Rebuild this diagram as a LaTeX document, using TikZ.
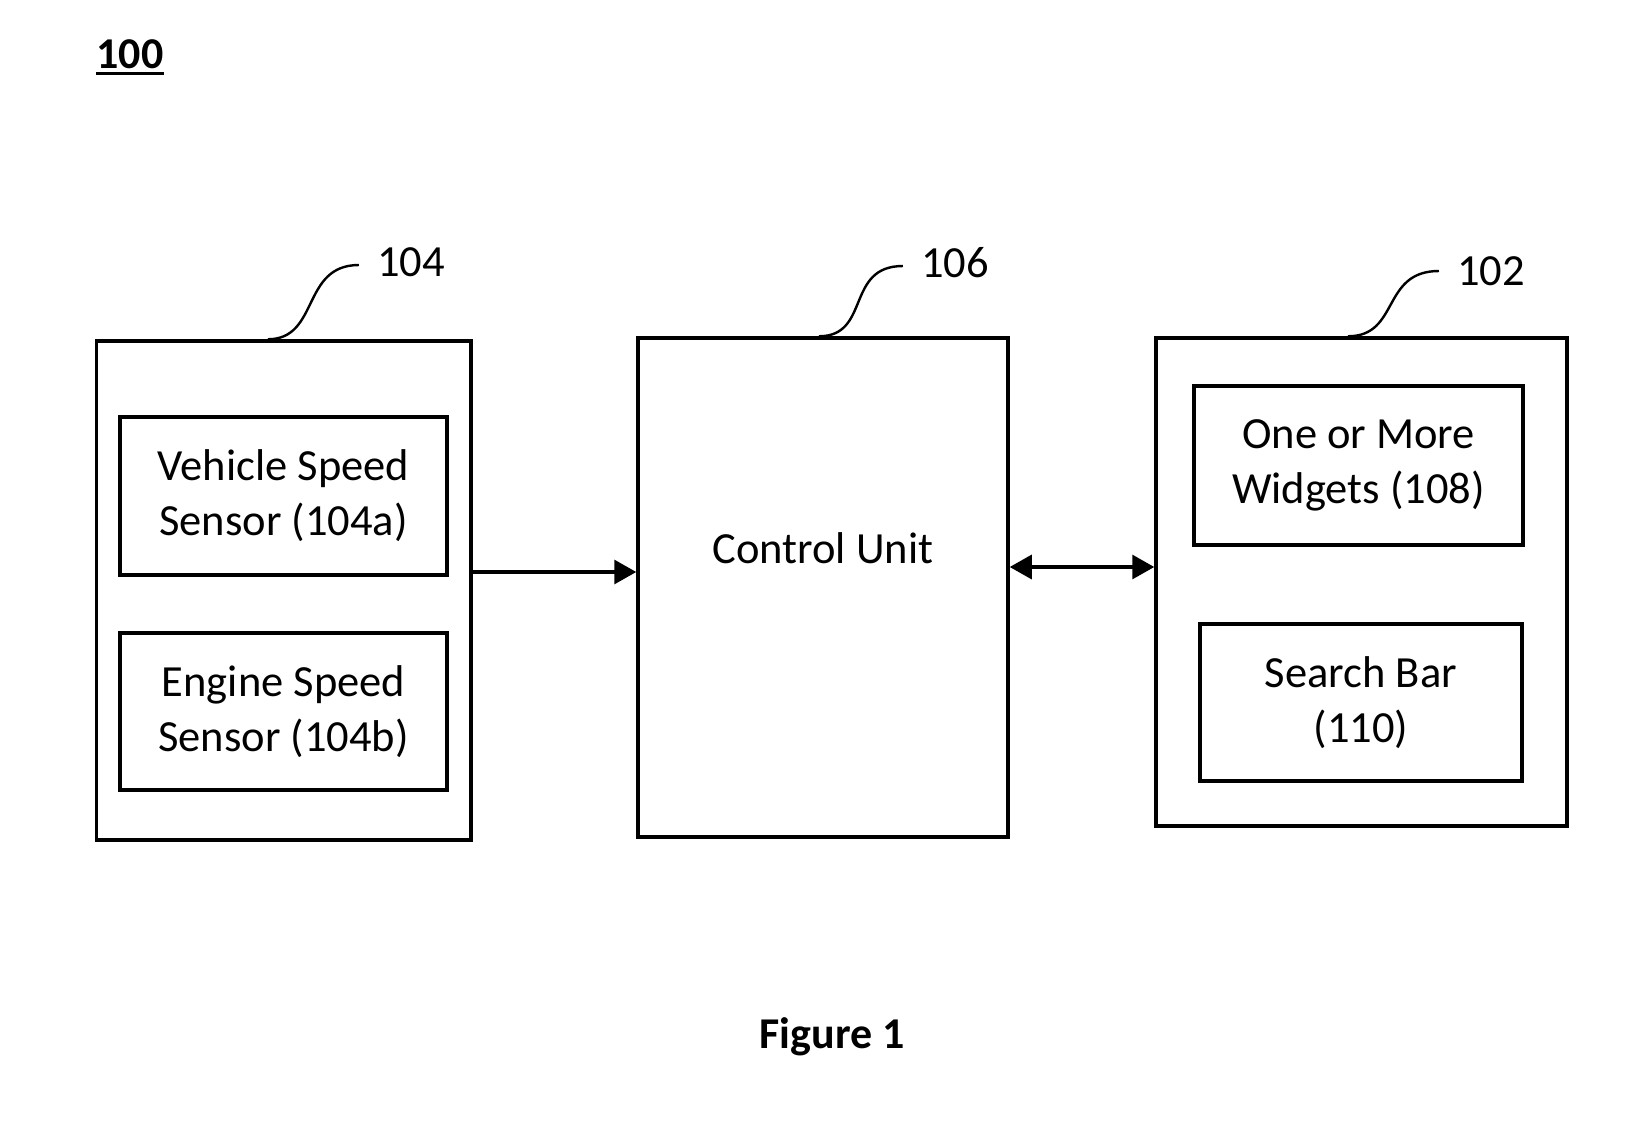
\documentclass[tikz,border=0pt]{standalone}
\usepackage{fontspec}
\setmainfont{Carlito}
\usepackage{tikz}
\usetikzlibrary{arrows.meta,positioning}

\begin{document}
\begin{tikzpicture}[x=1pt, y=-1pt,
    outerbox/.style={rectangle, draw=black, line width=3.5pt, inner sep=0pt},
    innerbox/.style={rectangle, draw=black, line width=3.5pt, align=center, inner sep=0pt},
    reflabel/.style={inner xsep=18pt, inner ysep=0pt},
    leader/.style={line width=2.4pt},
    link/.style={line width=3.2pt, -{Triangle[length=22pt, width=24pt]}},
    duplex/.style={line width=3.2pt, {Triangle[length=22pt, width=24pt]}-{Triangle[length=22pt, width=24pt]}},
    font=\fontsize{44.5}{55}\selectfont
]
\useasboundingbox (0,0) rectangle (1646,1130);

% Figure number
\node[font=\fontsize{44}{52}\selectfont\bfseries, inner sep=0pt] (fignum) at (130,54) {100};
\draw[line width=3.4pt] ([yshift=-5pt]fignum.south west) -- ([yshift=-5pt]fignum.south east);

% Sensors - left
\node[outerbox, minimum width=374.4pt, minimum height=499pt] (sensors) at (283.8,590.5) {};
\node[innerbox, minimum width=327pt, minimum height=158pt] (vss) at (283.5,496) {Vehicle Speed\\Sensor (104a)};
\node[innerbox, minimum width=327pt, minimum height=157pt] (ess) at (283.5,711.5) {Engine Speed\\Sensor (104b)};

% Control unit - middle
\node[outerbox, minimum width=370pt, minimum height=499pt] (control) at (823,587.5) {};
\node (ctrltext) at (823,548) {Control Unit};

% Display - right
\node[outerbox, minimum width=411pt, minimum height=488pt] (display) at (1361.5,582) {};
\node[innerbox, minimum width=329pt, minimum height=159pt] (widgets) at (1358.5,465.5) {One or More\\Widgets (108)};
\node[innerbox, minimum width=322pt, minimum height=157pt] (search) at (1361,702.5) {Search Bar\\(110)};

% Reference numerals
\node[reflabel] (l104) at (411,262) {104};
\node[reflabel] (l106) at (955,263) {106};
\node[reflabel] (l102) at (1491,271) {102};

\draw[leader] ([xshift=-16pt]sensors.north) .. controls +(52,0) and +(-58,0) .. ([yshift=-3pt]l104.west);
\draw[leader] ([xshift=-4pt]control.north) .. controls +(52,0) and +(-58,0) .. ([yshift=-3pt]l106.west);
\draw[leader] ([xshift=-13.5pt]display.north) .. controls +(52,0) and +(-58,0) .. (l102.west);

% Connections
\coordinate (a1) at ([yshift=18.5pt]sensors.east);
\draw[link] (a1) -- (a1 -| control.west);
\coordinate (a2) at ([yshift=20.5pt]control.east);
\draw[duplex] (a2) -- (a2 -| display.west);

% Caption
\node[font=\fontsize{44}{52}\selectfont\bfseries] (caption) at (832,1037) {Figure 1};

\end{tikzpicture}
\end{document}
